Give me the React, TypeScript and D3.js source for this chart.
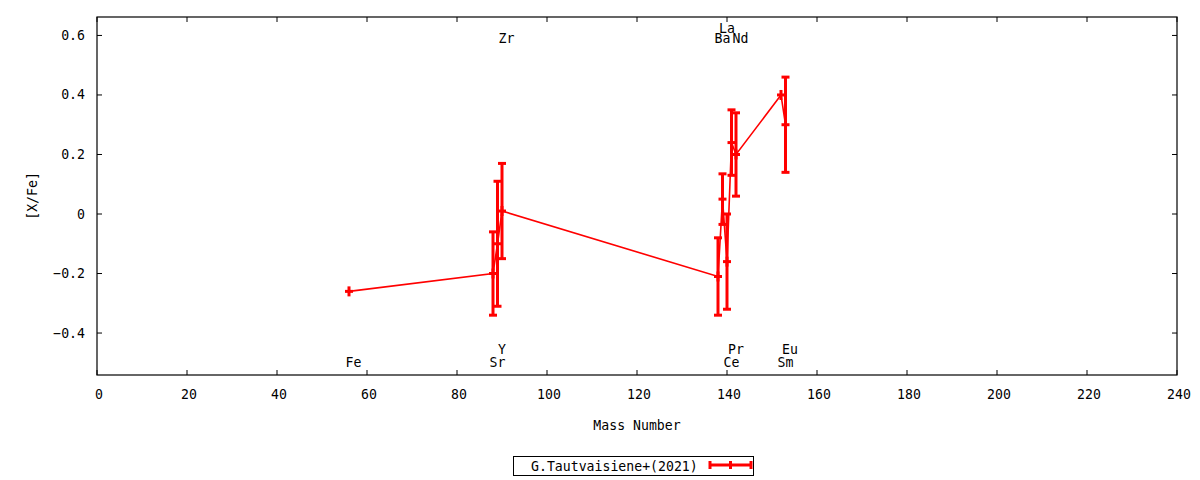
import * as d3 from "d3";

// element abundances, G.Tautvaisiene+(2021)
const elements = ["Fe", "Sr", "Y", "Zr", "Ba", "La", "Ce", "Pr", "Nd", "Sm", "Eu"];
const massNumbers = [56, 88, 89, 90, 138, 139, 140, 141, 142, 152, 153];
const xfeValues = [-0.26, -0.2, -0.1, 0.01, -0.21, 0.05, -0.16, 0.24, 0.2, 0.4, 0.3];
const xfeErrors = [0, 0.14, 0.21, 0.16, 0.13, 0.085, 0.16, 0.11, 0.14, 0, 0.16];
// label placement (data y value of each element name)
const labelY = [-0.5, -0.5, -0.455, 0.59, 0.59, 0.625, -0.5, -0.455, 0.59, -0.5, -0.455];

const xTicks = d3.range(0, 241, 20);
const yTicks = [-0.4, -0.2, 0, 0.2, 0.4, 0.6];
const seriesName = "G.Tautvaisiene+(2021)";

const W = 1200;
const H = 480;
const margin = { top: 17, right: 23, bottom: 105, left: 97 };
const RED = "#ff0000";
const FONT = "'DejaVu Sans Mono', monospace";

export default function App() {
  const x = d3.scaleLinear().domain([0, 240]).range([margin.left, W - margin.right]);
  const y = d3.scaleLinear().domain([-0.541, 0.662]).range([H - margin.bottom, margin.top]);

  const pts = massNumbers.map((m, i) => ({ m, v: xfeValues[i], e: xfeErrors[i], name: elements[i], ly: labelY[i] }));
  const line = d3.line<(typeof pts)[0]>().x((d) => x(d.m)).y((d) => y(d.v));

  const x0 = x.range()[0], x1 = x.range()[1];
  const yb = y.range()[0], yt = y.range()[1];
  const tick = 5;
  const cap = 4;

  return (
    <div style={{ position: "fixed", left: 0, top: 0 }}>
      <svg width={W} height={H} style={{ display: "block", background: "#fff" }} fontFamily={FONT} fontSize={13.2}>
        {/* ticks */}
        {xTicks.map((t) => (
          <g key={"xt" + t}>
            <line x1={x(t)} x2={x(t)} y1={yb} y2={yb - tick} stroke="#000" />
            <line x1={x(t)} x2={x(t)} y1={yt} y2={yt + tick} stroke="#000" />
            <text x={x(t) + 2} y={394.5} textAnchor="middle" dominantBaseline="central">{t}</text>
          </g>
        ))}
        {yTicks.map((t) => (
          <g key={"yt" + t}>
            <line x1={x0} x2={x0 + tick} y1={y(t)} y2={y(t)} stroke="#000" />
            <line x1={x1} x2={x1 - tick} y1={y(t)} y2={y(t)} stroke="#000" />
            <text x={85} y={y(t)} textAnchor="end" dominantBaseline="central">{d3.format("")(+t.toFixed(1))}</text>
          </g>
        ))}
        <rect x={x0} y={yt} width={x1 - x0} height={yb - yt} fill="none" stroke="#000" strokeWidth={1.2} />

        {/* axis titles */}
        <text x={(x0 + x1) / 2} y={425} textAnchor="middle" dominantBaseline="central">Mass Number</text>
        <text transform={`translate(32,${(yt + yb) / 2}) rotate(-90)`} textAnchor="middle" dominantBaseline="central">[X/Fe]</text>

        {/* element names */}
        {pts.map((d) => (
          <text key={"lb" + d.name} x={x(d.m + 1)} y={y(d.ly)} textAnchor="middle" dominantBaseline="central">{d.name}</text>
        ))}

        {/* connecting line */}
        <path d={line(pts) ?? ""} fill="none" stroke={RED} strokeWidth={1.6} />

        {/* error bars and points */}
        {pts.map((d) => (
          <g key={"pt" + d.name} stroke={RED} strokeWidth={3}>
            {d.e > 0 && (
              <>
                <line x1={x(d.m)} x2={x(d.m)} y1={y(d.v - d.e)} y2={y(d.v + d.e)} />
                <line x1={x(d.m) - cap} x2={x(d.m) + cap} y1={y(d.v - d.e)} y2={y(d.v - d.e)} />
                <line x1={x(d.m) - cap} x2={x(d.m) + cap} y1={y(d.v + d.e)} y2={y(d.v + d.e)} />
              </>
            )}
            <line x1={x(d.m) - cap} x2={x(d.m) + cap} y1={y(d.v)} y2={y(d.v)} />
            <line x1={x(d.m)} x2={x(d.m)} y1={y(d.v) - cap - 1} y2={y(d.v) + cap + 1} />
          </g>
        ))}

        {/* legend */}
        <g>
          <rect x={513.5} y={456.5} width={240} height={19} fill="none" stroke="#000" />
          <text x={531} y={466} dominantBaseline="central">{seriesName}</text>
          <g stroke={RED} strokeWidth={3}>
            <line x1={709} x2={752} y1={465} y2={465} />
            <line x1={710} x2={710} y1={461} y2={469} />
            <line x1={751} x2={751} y1={461} y2={469} />
            <line x1={730.5} x2={730.5} y1={461} y2={469} />
          </g>
        </g>
      </svg>
    </div>
  );
}
